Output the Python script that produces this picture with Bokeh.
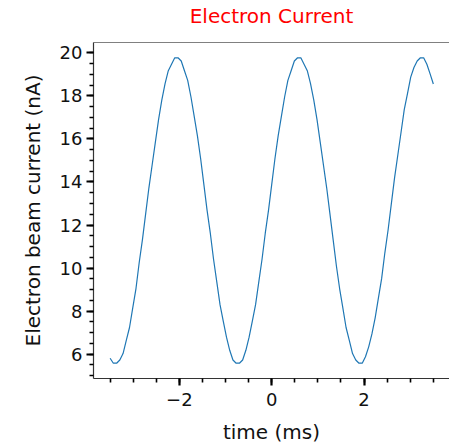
from bokeh.plotting import figure
from bokeh.models import Range1d, SingleIntervalTicker, LinearAxis, FixedTicker
from bokeh.embed import file_html
from bokeh.resources import INLINE

# sample times (ms)
time_ms = [
    -3.50, -3.43, -3.36, -3.29, -3.22, -3.15, -3.08, -3.01, -2.94, -2.87,
    -2.80, -2.73, -2.66, -2.59, -2.52, -2.45, -2.38, -2.31, -2.24, -2.17,
    -2.10, -2.03, -1.96, -1.89, -1.82, -1.75, -1.68, -1.61, -1.54, -1.47,
    -1.40, -1.33, -1.26, -1.19, -1.12, -1.05, -0.98, -0.91, -0.84, -0.77,
    -0.70, -0.63, -0.56, -0.49, -0.42, -0.35, -0.28, -0.21, -0.14, -0.07,
    0.00, 0.07, 0.14, 0.21, 0.28, 0.35, 0.42, 0.49, 0.56, 0.63,
    0.70, 0.77, 0.84, 0.91, 0.98, 1.05, 1.12, 1.19, 1.26, 1.33,
    1.40, 1.47, 1.54, 1.61, 1.68, 1.75, 1.82, 1.89, 1.96, 2.03,
    2.10, 2.17, 2.24, 2.31, 2.38, 2.45, 2.52, 2.59, 2.66, 2.73,
    2.80, 2.87, 2.94, 3.01, 3.08, 3.15, 3.22, 3.29, 3.36, 3.43,
    3.50,
]

# electron beam current (nA)
current_na = [
    5.81, 5.58, 5.58, 5.73, 6.03, 6.64, 7.24, 8.15, 9.05, 10.26,
    11.32, 12.53, 13.73, 14.79, 15.85, 16.91, 17.81, 18.57, 19.17, 19.47,
    19.77, 19.77, 19.62, 19.17, 18.72, 17.96, 17.06, 16.15, 15.09, 13.89,
    12.68, 11.62, 10.41, 9.36, 8.30, 7.54, 6.79, 6.18, 5.73, 5.58,
    5.58, 5.73, 6.18, 6.79, 7.54, 8.30, 9.36, 10.41, 11.62, 12.68,
    13.89, 15.09, 16.15, 17.06, 17.96, 18.72, 19.17, 19.62, 19.77, 19.77,
    19.47, 19.17, 18.57, 17.81, 16.91, 15.85, 14.79, 13.73, 12.53, 11.32,
    10.11, 9.05, 8.15, 7.24, 6.64, 6.03, 5.73, 5.58, 5.58, 5.88,
    6.34, 6.94, 7.69, 8.60, 9.51, 10.71, 11.77, 12.98, 14.19, 15.24,
    16.30, 17.36, 18.11, 18.87, 19.32, 19.62, 19.77, 19.77, 19.47, 19.02,
    18.55,
]

title_text = "Electron Current"
FONT = "DejaVu Sans"

p = figure(
    width=449, height=444,
    frame_width=356, frame_height=336,
    min_border_left=93, min_border_right=0,
    min_border_top=42, min_border_bottom=66,
    x_range=Range1d(-3.86, 3.85), y_range=Range1d(4.87, 20.48),
    output_backend="svg", toolbar_location=None,
    x_axis_label="time (ms)", y_axis_label="Electron beam current (nA)",
)
p.outline_line_color = None
p.grid.visible = False
p.background_fill_color = "white"
p.border_fill_color = "white"

p.xaxis.ticker = SingleIntervalTicker(interval=2, num_minor_ticks=4)
p.yaxis.ticker = SingleIntervalTicker(interval=2, num_minor_ticks=4)

for ax in (p.xaxis[0], p.yaxis[0]):
    ax.axis_line_color = "#333333"
    ax.axis_line_width = 1.2
    ax.major_tick_line_color = "black"
    ax.major_tick_line_width = 2.2
    ax.major_tick_out = 7
    ax.major_tick_in = 0
    ax.minor_tick_line_color = "black"
    ax.minor_tick_line_width = 1.6
    ax.minor_tick_out = 4
    ax.minor_tick_in = 0
    ax.major_label_text_font = FONT
    ax.major_label_text_font_size = "18px"
    ax.major_label_text_color = "#111111"
    ax.axis_label_text_font = FONT
    ax.axis_label_text_font_size = "20px"
    ax.axis_label_text_font_style = "normal"
    ax.axis_label_text_color = "#111111"

p.xaxis.major_label_standoff = 7
p.yaxis.major_label_standoff = 4
p.xaxis.axis_label_standoff = 11
p.yaxis.axis_label_standoff = 12

# top frame line carrying the chart title
top_axis = LinearAxis(ticker=FixedTicker(ticks=[]), axis_line_color="#808080",
                      axis_line_width=1.2, major_tick_line_color=None,
                      minor_tick_line_color=None, major_label_text_font_size="0px",
                      major_label_standoff=0,
                      axis_label=title_text, axis_label_text_color="red",
                      axis_label_text_font=FONT, axis_label_text_font_size="20px",
                      axis_label_text_font_style="normal", axis_label_standoff=15)
p.add_layout(top_axis, "above")

p.line(time_ms, current_na, line_color="#1f77b4", line_width=1.2)

open("out.html", "w").write(file_html(p, INLINE))
